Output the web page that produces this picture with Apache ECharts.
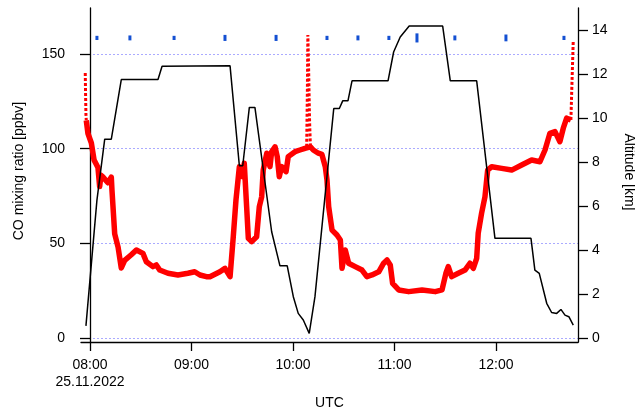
<!DOCTYPE html>
<html>
<head>
<meta charset="utf-8">
<script src="https://cdn.jsdelivr.net/npm/echarts@6/dist/echarts.min.js"></script>
<style>
html,body{margin:0;padding:0;background:#fff;}
#chart{width:635px;height:412px;}
</style>
</head>
<body>
<div id="chart"></div>
<script>
// Time in minutes after 08:00 UTC, 25.11.2022
const xTickMinutes = [0, 60, 120, 180, 240];
const xTickLabels = ['08:00\n25.11.2022', '09:00', '10:00', '11:00', '12:00'];
const coTicks = [0, 50, 100, 150];
const altTicks = [0, 2, 4, 6, 8, 10, 12, 14];

// Altitude [km]
const altTime = [-2.4, 4.1, 8.7, 12.6, 18.5, 40.2, 42.6, 82.8, 88.3, 90.3, 94.2, 97.5, 107.4, 112.3, 116.6, 120.2, 123.1, 126.1, 129.6, 133.0, 144.1, 147.4, 149.4, 152.5, 154.9, 176.2, 179.5, 183.4, 188.7, 208.5, 213.0, 228.6, 239.4, 260.7, 263.0, 265.6, 270.0, 272.9, 275.9, 278.4, 280.8, 283.1, 285.7];
const altKm = [0.55, 6.27, 9.04, 9.04, 11.75, 11.75, 12.35, 12.37, 7.83, 7.83, 10.48, 10.48, 4.83, 3.28, 3.28, 1.88, 1.12, 0.82, 0.21, 1.88, 10.43, 10.43, 10.78, 10.78, 11.69, 11.69, 13.0, 13.68, 14.18, 14.18, 11.69, 11.69, 4.53, 4.53, 3.09, 2.94, 1.58, 1.16, 1.12, 1.3, 1.04, 0.97, 0.59];

// CO mixing ratio [ppbv], dense sampling
const coTime = [-2.2, -1.2, 0.8, 2.4, 4.7, 5.7, 6.5, 7.7, 10.6, 12.6, 13.0, 14.6, 16.6, 18.5, 20.5, 24.4, 27.4, 31.3, 33.3, 37.2, 39.2, 41.2, 46.1, 52.0, 57.9, 61.9, 65.0, 68.8, 70.9, 76.8, 79.8, 82.8, 84.7, 86.3, 88.3, 90.3, 91.2, 92.6, 93.6, 95.6, 98.5, 100.1, 101.5, 102.4, 104.5, 106.4, 107.4, 109.4, 110.7, 111.9, 113.3, 115.9, 117.2, 121.2, 124.1, 127.1, 128.1, 130.3, 132.0, 135.0, 137.1, 138.0, 139.1, 140.1, 141.1, 143.1, 146.0, 148.0, 149.0, 150.9, 152.9, 156.8, 160.8, 163.7, 166.7, 170.7, 173.6, 175.6, 177.5, 178.9, 182.5, 188.4, 196.3, 204.1, 208.1, 210.4, 211.8, 213.8, 217.7, 221.7, 224.6, 226.6, 228.6, 229.5, 231.5, 233.5, 235.1, 237.5, 243.4, 249.3, 255.2, 261.1, 266.0, 269.0, 271.9, 274.9, 277.8, 279.8, 281.8, 284.3];
const coPpbv = [115, 108, 103, 94, 90, 80, 86, 85, 82, 85, 78, 55, 48, 37, 41, 44, 46.5, 44.7, 40.3, 37.7, 38.6, 35.9, 34.2, 33.3, 34.2, 35, 33.3, 32.4, 32.4, 35, 36.8, 32.4, 53.5, 72.9, 90.5, 85.2, 92.3, 69.4, 52.7, 50.9, 53.5, 69.4, 74.6, 88.7, 97.6, 90.5, 98.4, 101, 95.8, 85.2, 90.5, 87.9, 95.8, 98.4, 99.3, 100.2, 101, 101, 99.3, 97.6, 97, 94, 90.5, 83.5, 69.4, 57, 54.4, 51.8, 36.8, 46.5, 39.5, 37.7, 35.9, 32.4, 33.3, 35, 39.5, 41.2, 38.6, 28.9, 25.4, 24.5, 25.4, 24.5, 25.4, 34.2, 37.7, 32.4, 34.2, 35.9, 39.5, 36.8, 42.1, 55.3, 65.9, 74.6, 88.7, 90.5, 89.6, 88.7, 91.4, 94, 93.1, 99.3, 108.1, 109, 103.7, 110.8, 116.1, 115.2];

// CO mixing ratio [ppbv], sparse sampling (start, spike near 10:09, end)
const coSparseStartTime = [-2.8, -2.6, -2.4, -2.2];
const coSparseStartPpbv = [140, 128, 118, 115];
const coSparseSpikeTime = [128.1, 128.5, 128.8, 129.3, 129.8, 130.3];
const coSparseSpikePpbv = [101, 130, 160, 140, 115, 101];
const coSparseEndTime = [284.3, 285.1, 285.7];
const coSparseEndPpbv = [115.2, 139.8, 157.4];

// Sample markers (time, low/high on CO axis)
const sampleTime = [4.1, 23.6, 49.7, 79.8, 110.0, 140.1, 158.4, 176.7, 193.3, 215.7, 245.9, 280.2];
const sampleLow = [157.4, 157.2, 157.4, 156.9, 156.9, 157.4, 157.2, 157.4, 156.1, 157.2, 156.7, 157.4];
const sampleHigh = [159.6, 159.8, 159.6, 160.1, 160.1, 159.6, 159.8, 159.6, 160.9, 159.8, 160.3, 159.6];

const FONT = "'Liberation Sans', Arial, sans-serif";
const chart = echarts.init(document.getElementById('chart'), null, {renderer: 'canvas'});

const pairs = (ts, vs) => ts.map((t, i) => [t, vs[i]]);
const altData = pairs(altTime, altKm);
const coData = pairs(coTime, coPpbv);
const coSparseData = [].concat(
  pairs(coSparseStartTime, coSparseStartPpbv), ['-'],
  pairs(coSparseSpikeTime, coSparseSpikePpbv), ['-'],
  pairs(coSparseEndTime, coSparseEndPpbv)
);
const sampleData = sampleTime.map((t, i) => [t, sampleLow[i], sampleHigh[i]]);

chart.setOption({
  animation: false,
  backgroundColor: '#fff',
  grid: {left: 81, right: 57, top: 8, bottom: 70, containLabel: false, outerBoundsMode: 'none'},
  xAxis: {
    type: 'value', min: -5.32, max: 288.5,
    name: 'UTC', nameLocation: 'middle', nameGap: 53,
    nameTextStyle: {fontFamily: FONT, fontSize: 14, color: '#000'},
    axisLine: {show: true, onZero: false, lineStyle: {color: '#000', width: 1.3}},
    axisTick: {show: true, length: 9, customValues: xTickMinutes, lineStyle: {color: '#000', width: 1.3}},
    axisLabel: {
      customValues: xTickMinutes, margin: 15, fontFamily: FONT, fontSize: 14, color: '#000', lineHeight: 17,
      formatter: v => xTickLabels[xTickMinutes.indexOf(Math.round(v))] || ''
    },
    splitLine: {show: false}
  },
  yAxis: [{
    type: 'value', min: -2.1, max: 174.3, position: 'left',
    name: 'CO mixing ratio [ppbv]', nameLocation: 'middle', nameGap: 55,
    nameTextStyle: {fontFamily: FONT, fontSize: 14, color: '#000', padding: [0, 0, 0, 8]},
    axisLine: {show: true, lineStyle: {color: '#000', width: 1.3}},
    axisTick: {show: true, length: 10, customValues: coTicks, lineStyle: {color: '#000', width: 1.3}},
    axisLabel: {customValues: coTicks, margin: 16, fontFamily: FONT, fontSize: 14, color: '#000'},
    splitLine: {show: true, lineStyle: {color: '#aaaaff', width: 1, type: [2, 2]}}
  }, {
    type: 'value', min: -0.18, max: 15, position: 'right',
    name: 'Altitude [km]', nameLocation: 'middle', nameGap: 44, nameRotate: -90,
    nameTextStyle: {fontFamily: FONT, fontSize: 14, color: '#000', padding: [0, 6, 0, 0]},
    axisLine: {show: true, lineStyle: {color: '#000', width: 1.3}},
    axisTick: {show: true, length: 10, customValues: altTicks, lineStyle: {color: '#000', width: 1.3}},
    axisLabel: {customValues: altTicks, margin: 14, fontFamily: FONT, fontSize: 14, color: '#000'},
    splitLine: {show: false}
  }],
  series: [{
    name: 'CO', type: 'line', yAxisIndex: 0, data: coData,
    showSymbol: false, symbol: 'none',
    lineStyle: {color: '#ff0000', width: 5.5, join: 'round'},
    z: 2
  }, {
    name: 'CO sparse', type: 'line', yAxisIndex: 0, data: coSparseData,
    showSymbol: false, symbol: 'none', connectNulls: false,
    lineStyle: {color: '#ff0000', width: 3, type: [3, 2]},
    z: 2
  }, {
    name: 'Altitude', type: 'line', yAxisIndex: 1, data: altData,
    showSymbol: false, symbol: 'none',
    lineStyle: {color: '#000', width: 1.5},
    z: 3
  }, {
    name: 'Samples', type: 'custom', yAxisIndex: 0, data: sampleData,
    encode: {x: 0, y: [1, 2]},
    renderItem: (params, api) => {
      const hi = api.coord([api.value(0), api.value(2)]);
      const lo = api.coord([api.value(0), api.value(1)]);
      return {type: 'rect', shape: {x: hi[0] - 1.5, y: hi[1], width: 3, height: lo[1] - hi[1]}, style: {fill: '#1450d2'}};
    },
    z: 4
  }]
});
</script>
</body>
</html>
